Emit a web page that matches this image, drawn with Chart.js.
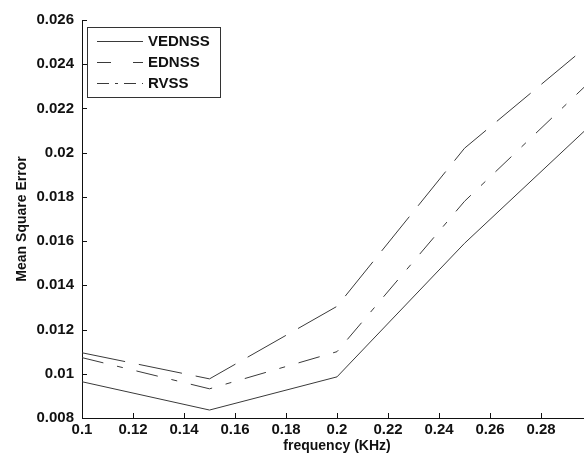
<!DOCTYPE html>
<html>
<head>
<meta charset="utf-8">
<script src="https://cdn.jsdelivr.net/npm/chart.js@4"></script>
<style>
  html, body { margin: 0; padding: 0; background: #fff; overflow: hidden; }
  canvas { display: block; }
</style>
</head>
<body>
<canvas id="mseChart" width="600" height="456"></canvas>
<script>
// frequencies (KHz) and the three curves
const frequency = [0.1, 0.15, 0.2, 0.25, 0.3];
const vednss = [0.00964, 0.00836, 0.00986, 0.0159, 0.0213];
const ednss = [0.01095, 0.00977, 0.01305, 0.0202, 0.0250];
const rvss = [0.01073, 0.00932, 0.0110, 0.0178, 0.0233];
const seriesNames = ["VEDNSS", "EDNSS", "RVSS"];

const FONT = "'Liberation Sans', Arial, Helvetica, sans-serif";
const INK = "#111";
const LINE = "#3a3a3a";

function toPoints(ys) {
    return frequency.map((f, i) => ({ x: f, y: ys[i] }));
}

// small inward tick marks, like the matlab axes
const inwardTicks = {
    id: "inwardTicks",
    afterDatasetsDraw(chart) {
        const ctx = chart.ctx;
        const area = chart.chartArea;
        const xs = chart.scales.x, ys = chart.scales.y;
        ctx.save();
        ctx.strokeStyle = INK;
        ctx.lineWidth = 1;
        ctx.beginPath();
        xs.ticks.forEach((t, i) => {
            const px = Math.round(xs.getPixelForTick(i)) + 0.5;
            ctx.moveTo(px, area.bottom);
            ctx.lineTo(px, area.bottom - 5);
        });
        ys.ticks.forEach((t, i) => {
            const py = Math.round(ys.getPixelForTick(i)) + 0.5;
            ctx.moveTo(area.left, py);
            ctx.lineTo(area.left + 5, py);
        });
        ctx.stroke();
        ctx.restore();
    }
};

// legend box in the upper left corner of the plot
const boxLegend = {
    id: "boxLegend",
    afterDraw(chart) {
        const ctx = chart.ctx;
        const area = chart.chartArea;
        const x0 = area.left + 5, y0 = area.top + 7;
        const w = 133, h = 70, rowH = 21;
        ctx.save();
        ctx.fillStyle = "#fff";
        ctx.fillRect(x0, y0, w, h);
        ctx.strokeStyle = "#333";
        ctx.lineWidth = 1;
        ctx.strokeRect(x0 + 0.5, y0 + 0.5, w, h);
        ctx.font = "bold 15px " + FONT;
        ctx.textBaseline = "middle";
        chart.data.datasets.forEach((ds, i) => {
            const cy = y0 + 14 + i * rowH + 0.5;
            ctx.strokeStyle = ds.borderColor;
            ctx.lineWidth = ds.borderWidth;
            ctx.setLineDash(ds.legendDash || ds.borderDash || []);
            ctx.beginPath();
            ctx.moveTo(x0 + 10, cy);
            ctx.lineTo(x0 + 56, cy);
            ctx.stroke();
            ctx.setLineDash([]);
            ctx.fillStyle = INK;
            ctx.fillText(ds.label, x0 + 61, cy);
        });
        ctx.restore();
    }
};

const ctx = document.getElementById("mseChart").getContext("2d");
const mseChart = new Chart(ctx, {
    type: "line",
    data: {
        datasets: [
            { label: seriesNames[0], data: toPoints(vednss), borderColor: LINE, borderWidth: 1, borderDash: [] },
            { label: seriesNames[1], data: toPoints(ednss), borderColor: LINE, borderWidth: 1, borderDash: [44, 14], legendDash: [14, 22] },
            { label: seriesNames[2], data: toPoints(rvss), borderColor: LINE, borderWidth: 1, borderDash: [22, 14, 6, 14], legendDash: [12, 6, 3, 6] }
        ]
    },
    options: {
        responsive: false,
        animation: false,
        events: [],
        elements: { point: { radius: 0 }, line: { tension: 0 } },
        layout: { padding: { top: 20, right: 8, left: 0, bottom: 0 } },
        plugins: { legend: { display: false }, tooltip: { enabled: false } },
        scales: {
            x: {
                type: "linear",
                min: 0.1,
                max: 0.3,
                afterFit: s => { s.height = 38; },
                ticks: {
                    stepSize: 0.02,
                    padding: 3,
                    color: INK,
                    font: { family: FONT, size: 15, weight: "bold" },
                    maxRotation: 0,
                    callback: v => (v > 0.295 ? "" : String(Math.round(v * 100) / 100))
                },
                grid: { display: true, drawOnChartArea: false, drawTicks: false },
                border: { display: true, color: INK, width: 1 },
                title: {
                    display: true,
                    text: "frequency (KHz)",
                    color: INK,
                    font: { family: FONT, size: 14, weight: "bold" },
                    padding: { top: 0, bottom: 1 }
                }
            },
            y: {
                min: 0.008,
                max: 0.026,
                afterFit: s => { s.width = 82; },
                ticks: {
                    stepSize: 0.002,
                    padding: 8,
                    color: INK,
                    font: { family: FONT, size: 15, weight: "bold" },
                    callback: v => String(Math.round(v * 1000) / 1000)
                },
                grid: { display: true, drawOnChartArea: false, drawTicks: false },
                border: { display: true, color: INK, width: 1 },
                title: {
                    display: true,
                    text: "Mean Square Error",
                    color: INK,
                    font: { family: FONT, size: 14, weight: "bold" },
                    padding: { top: 14, bottom: 0 }
                }
            }
        }
    },
    plugins: [inwardTicks, boxLegend]
});
</script>
</body>
</html>
